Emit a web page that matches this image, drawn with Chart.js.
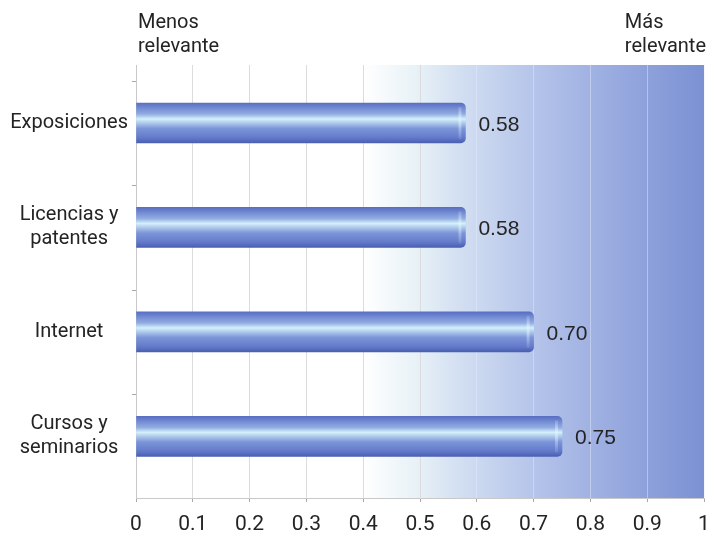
<!DOCTYPE html>
<html>
<head>
<meta charset="utf-8">
<script src="https://cdn.jsdelivr.net/npm/chart.js@4/dist/chart.umd.min.js"></script>
<style>
  html, body { margin: 0; padding: 0; background: #ffffff; }
  #wrap { width: 712px; height: 535px; position: relative; }
</style>
</head>
<body>
<div id="wrap"><canvas id="c" width="712" height="535"></canvas></div>
<script>
// Category labels (one entry per bar, split into display lines)
const categories = [
  ['Exposiciones'],
  ['Licencias y', 'patentes'],
  ['Internet'],
  ['Cursos y', 'seminarios']
];
// Relevance score for each category
const values = [0.58, 0.58, 0.70, 0.75];
// Labels of the relevance axis
const xTickLabels = ['0', '0.1', '0.2', '0.3', '0.4', '0.5', '0.6', '0.7', '0.8', '0.9', '1'];
// Captions at both ends of the relevance scale
const lowCaption = ['Menos', 'relevante'];
const highCaption = ['Más', 'relevante'];

const TEXT = '#242424';
const LABEL_FONT = 'Roboto, "Liberation Sans", sans-serif';
const VALUE_FONT = '"Liberation Sans", Arial, sans-serif';
const BAR_H = 40;

// Background: white on the low side, fading into blue on the high side
const backdrop = {
  id: 'backdrop',
  beforeDraw(chart) {
    const { ctx, chartArea: a } = chart;
    const g = ctx.createLinearGradient(a.left, 0, a.right, 0);
    g.addColorStop(0.00, '#ffffff');
    g.addColorStop(0.40, '#ffffff');
    g.addColorStop(0.49, '#e8f2f7');
    g.addColorStop(0.58, '#d0ddf1');
    g.addColorStop(0.70, '#b5c4ea');
    g.addColorStop(0.85, '#97a9df');
    g.addColorStop(1.00, '#7b91d3');
    ctx.save();
    ctx.fillStyle = g;
    ctx.fillRect(a.left, a.top, a.right - a.left, a.bottom - a.top);
    ctx.restore();
  }
};

// Cylinder shading for each bar, following its own vertical position
function barFill(context) {
  const chart = context.chart;
  const yScale = chart.scales.y;
  if (!yScale || !chart.chartArea) return '#7088d2';
  const yc = yScale.getPixelForValue(context.dataIndex);
  const g = chart.ctx.createLinearGradient(0, yc - BAR_H / 2, 0, yc + BAR_H / 2);
  g.addColorStop(0.00, '#5a6ec2');
  g.addColorStop(0.10, '#6d85d0');
  g.addColorStop(0.28, '#93ade2');
  g.addColorStop(0.40, '#d3f0fa');
  g.addColorStop(0.50, '#aec9ec');
  g.addColorStop(0.64, '#7c95d8');
  g.addColorStop(0.86, '#647bcb');
  g.addColorStop(1.00, '#4b5fb2');
  return g;
}

// Rounded end cap highlight and value label beside each bar
const barDecor = {
  id: 'barDecor',
  afterDatasetsDraw(chart) {
    const { ctx } = chart;
    const meta = chart.getDatasetMeta(0);
    ctx.save();
    meta.data.forEach((bar, i) => {
      const top = bar.y - BAR_H / 2;
      const g = ctx.createLinearGradient(0, top, 0, top + BAR_H);
      g.addColorStop(0, 'rgba(255,255,255,0.0)');
      g.addColorStop(0.4, 'rgba(225,245,255,0.55)');
      g.addColorStop(1, 'rgba(255,255,255,0.0)');
      ctx.fillStyle = g;
      ctx.fillRect(bar.x - 7, top + 4, 3, BAR_H - 8);

      ctx.fillStyle = TEXT;
      ctx.font = '21px ' + VALUE_FONT;
      ctx.textAlign = 'left';
      ctx.textBaseline = 'middle';
      ctx.fillText(values[i].toFixed(2), bar.x + 13, bar.y + 2);
    });
    ctx.restore();
  }
};

// End-of-scale captions above the plot
const captions = {
  id: 'captions',
  afterDraw(chart) {
    const { ctx, chartArea: a } = chart;
    ctx.save();
    ctx.fillStyle = TEXT;
    ctx.font = '20px ' + LABEL_FONT;
    ctx.textBaseline = 'alphabetic';
    ctx.textAlign = 'left';
    lowCaption.forEach((t, i) => ctx.fillText(t, a.left + 2, 28 + i * 24));
    const w = Math.max(...highCaption.map(t => ctx.measureText(t).width));
    highCaption.forEach((t, i) => ctx.fillText(t, a.right + 2 - w, 28 + i * 24));
    ctx.restore();
  }
};

const bars = values.map((v, i) => ({ x: v, y: i }));

new Chart(document.getElementById('c'), {
  type: 'bar',
  data: {
    datasets: [{
      data: bars,
      backgroundColor: barFill,
      borderWidth: 0,
      borderRadius: 5,
      borderSkipped: 'start',
      barThickness: BAR_H
    }]
  },
  options: {
    indexAxis: 'y',
    responsive: false,
    animation: false,
    events: [],
    layout: { padding: { top: 65, right: 0, left: 0, bottom: 0 } },
    plugins: { legend: { display: false }, tooltip: { enabled: false } },
    scales: {
      x: {
        type: 'linear',
        min: 0,
        max: 1,
        afterFit: (s) => { s.height = 37; s.paddingLeft = 0; s.paddingRight = 8; },
        ticks: {
          stepSize: 0.1,
          padding: 12,
          color: TEXT,
          font: { family: LABEL_FONT, size: 21, lineHeight: 1 },
          callback: (v, i) => xTickLabels[i]
        },
        grid: {
          color: (c) => (c.tick && c.tick.value > 0.52) ? 'rgba(232,238,252,0.45)' : '#dcdcdc',
          tickColor: '#a8a8a8',
          tickLength: 4,
          lineWidth: 1
        },
        border: { color: '#c9c9c9' }
      },
      y: {
        type: 'linear',
        reverse: true,
        offset: false,
        min: -0.555,
        max: 3.59,
        weight: 1,
        afterBuildTicks: (s) => { s.ticks = categories.map((_, i) => ({ value: i })); },
        afterFit: (s) => { s.width = 132; },
        ticks: {
          padding: 4,
          crossAlign: 'center',
          color: TEXT,
          font: { family: LABEL_FONT, size: 20, lineHeight: 1.2 },
          callback: (v) => categories[Math.round(v)]
        },
        grid: { display: false, drawTicks: false, offset: false },
        border: { display: false }
      },
      // Axis line with short marks separating the category bands
      y2: {
        type: 'linear',
        position: 'left',
        reverse: true,
        offset: false,
        min: -0.555,
        max: 3.59,
        weight: 0,
        afterBuildTicks: (s) => { s.ticks = categories.map((_, i) => ({ value: i - 0.4 })); },
        ticks: { display: false },
        grid: { offset: false, drawOnChartArea: false, tickLength: 4, color: '#a8a8a8' },
        border: { color: '#c9c9c9' }
      }
    }
  },
  plugins: [backdrop, barDecor, captions]
});
</script>
</body>
</html>
